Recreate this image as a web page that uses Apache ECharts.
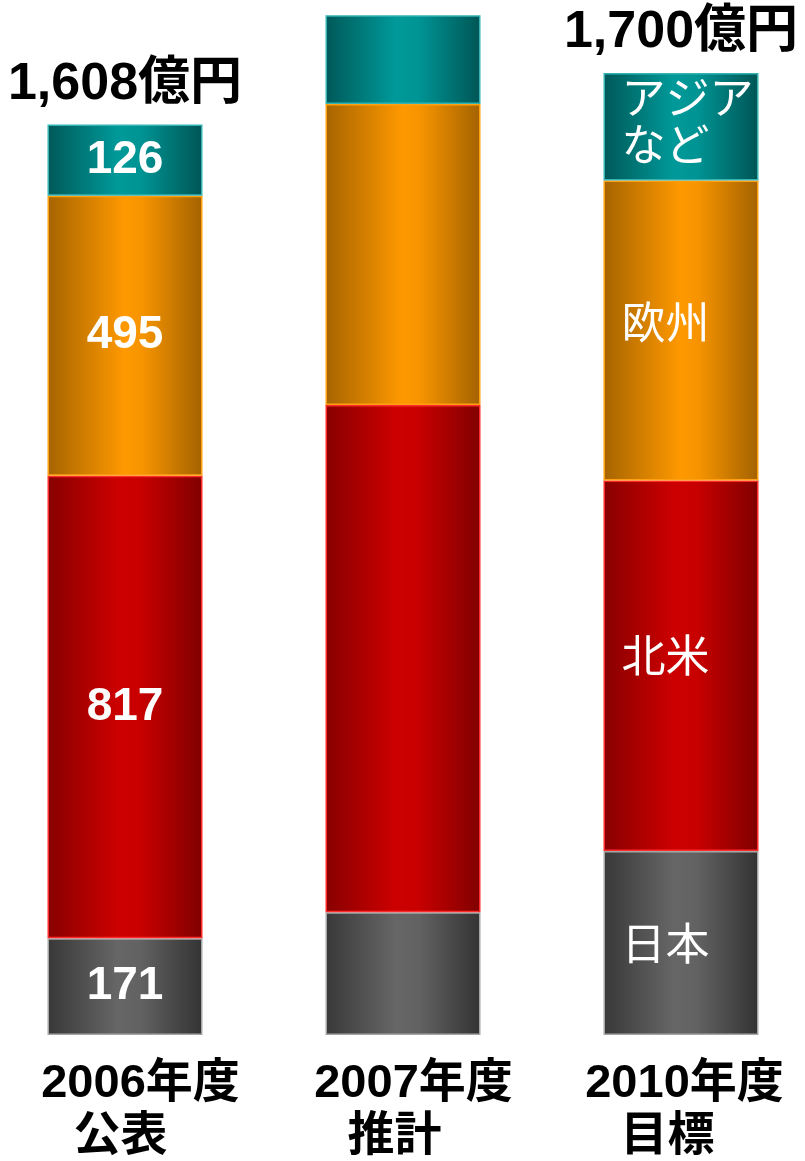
<!DOCTYPE html>
<html>
<head>
<meta charset="utf-8">
<script src="https://cdn.jsdelivr.net/npm/echarts@6/dist/echarts.min.js"></script>
<style>
html,body{margin:0;padding:0;background:#fff;overflow:hidden;width:805px;height:1161px;position:relative;}
#chart{position:absolute;left:-14px;top:0;width:834px;height:1161px;}
</style>
</head>
<body>
<div id="chart"></div>
<script>
// ---- data ----
const categories = ['2006年度', '2007年度', '2010年度'];
const subLabels = ['公表', '推計', '目標'];
const regionNames = ['日本', '北米', '欧州', 'アジア\nなど'];
const japan = [171, 217, 325];
const northAmerica = [817, 896, 655];
const europe = [495, 532, 530];
const asia = [126, 157, 190];
const totals = [1608, null, 1700];
const labelModes = ['value', 'none', 'name'];

// ---- styles ----
const FONT = '"Liberation Sans", Arial, "Noto Sans CJK JP", sans-serif';
function grad(stops) {
  return new echarts.graphic.LinearGradient(0, 0, 1, 0,
    stops.map(s => ({offset: s[0], color: s[1]})));
}
const styles = [
  {fill: grad([[0, '#383838'], [0.45, '#666666'], [0.6, '#626262'], [1, '#333333']]), border: '#a6a6a6'},
  {fill: grad([[0, '#880000'], [0.45, '#cc0000'], [0.6, '#c80000'], [1, '#800000']]), border: '#ff2a2a'},
  {fill: grad([[0, '#a66400'], [0.5, '#ff9900'], [0.62, '#f59300'], [1, '#a36200']]), border: '#ffa010'},
  {fill: grad([[0, '#005858'], [0.45, '#009999'], [0.6, '#009494'], [1, '#005555']]), border: '#33b3b3'}
];
const seriesValues = [japan, northAmerica, europe, asia];
const nameOffsets = [[0, 0], [0, -10], [0, -8], [0, -6]];

function buildSeries(idx) {
  const vals = seriesValues[idx];
  return {
    name: regionNames[idx],
    type: 'bar',
    stack: 'total',
    barWidth: 155,
    itemStyle: {color: styles[idx].fill, borderColor: styles[idx].border, borderWidth: 1.5},
    data: vals.map((v, i) => {
      const mode = labelModes[i];
      if (mode === 'value') {
        return {value: v, label: {show: true, position: 'inside', formatter: String(v),
          color: '#fff', fontSize: 46, fontWeight: 'bold', fontFamily: FONT}};
      } else if (mode === 'name') {
        return {value: v, label: {show: true, position: 'insideLeft', distance: 18,
          offset: nameOffsets[idx],
          formatter: regionNames[idx], color: '#fff', fontSize: 44, lineHeight: 47,
          fontWeight: 'normal', fontFamily: '"Noto Sans CJK JP", sans-serif', align: 'left'}};
      }
      return {value: v, label: {show: false}};
    })
  };
}

const series = [0, 1, 2, 3].map(buildSeries);
series.push({
  name: 'total',
  type: 'bar',
  stack: 'total',
  barWidth: 155,
  itemStyle: {color: 'rgba(0,0,0,0)', borderWidth: 0},
  label: {
    show: true, position: 'top', distance: 14,
    formatter: p => totals[p.dataIndex] == null ? '' : totals[p.dataIndex].toLocaleString('en-US') + '億円',
    color: '#000', fontSize: 52, fontWeight: 'bold', fontFamily: FONT
  },
  data: totals.map(t => t == null ? '-' : 0)
});

const line1Pad = [31, 21, 7];
const line2Pad = [9, 17, 27];
const rich = {};
categories.forEach((c, i) => {
  rich['a' + i] = {fontSize: 47, fontWeight: 'bold', color: '#000', fontFamily: FONT, lineHeight: 53, padding: [0, 0, 0, line1Pad[i]]};
  rich['b' + i] = {fontSize: 47, fontWeight: 'bold', color: '#000', fontFamily: FONT, lineHeight: 53, padding: [0, line2Pad[i], 0, 0]};
});

const chart = echarts.init(document.getElementById('chart'), null, {renderer: 'canvas'});
chart.setOption({
  animation: false,
  backgroundColor: '#fff',
  grid: {left: 0, right: 0, top: 5, bottom: 126, containLabel: false},
  xAxis: {
    type: 'category',
    data: categories,
    axisLine: {show: false},
    axisTick: {show: false},
    axisLabel: {
      margin: 23,
      interval: 0,
      formatter: (v, i) => '{a' + i + '|' + v + '}\n{b' + i + '|' + subLabels[i] + '}',
      rich: rich
    }
  },
  yAxis: {
    type: 'value', min: 0, max: 1820, show: false,
    splitLine: {show: false}
  },
  series: series
});
</script>
</body>
</html>
